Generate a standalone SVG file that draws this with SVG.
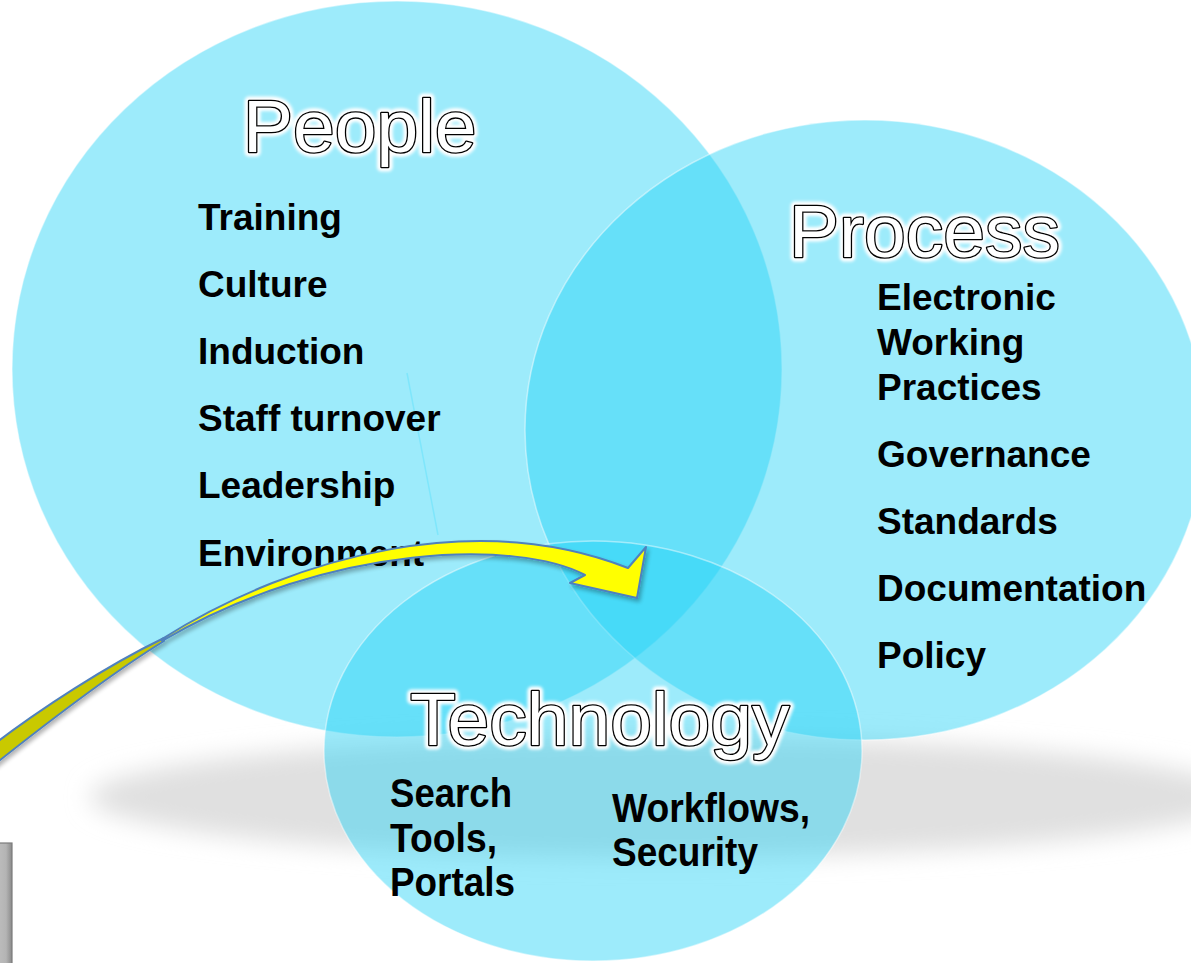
<svg xmlns="http://www.w3.org/2000/svg" width="1191" height="963" viewBox="0 0 1191 963">
<defs>
<style>
.circle{fill:#20d1f6;fill-opacity:0.44;stroke:#ffffff;stroke-opacity:0.45;stroke-width:1.5}
.title{font-family:"Liberation Sans",Arial,sans-serif;font-size:75px;fill:#ffffff;stroke:#000000;stroke-width:2.6;paint-order:stroke;stroke-linejoin:round}
.halo{font-family:"Liberation Sans",Arial,sans-serif;font-size:75px;fill:#ffffff;stroke:#ffffff;stroke-width:9;stroke-linejoin:round}
.item{font-family:"Liberation Sans",Arial,sans-serif;font-weight:bold;font-size:37px;fill:#000000}
.tech{font-family:"Liberation Sans",Arial,sans-serif;font-weight:bold;font-size:40px;fill:#000000}
.ribbon{stroke:#4f81bd;stroke-width:2;stroke-linejoin:round}
</style>
<filter id="blurShadow" x="-20%" y="-50%" width="140%" height="200%">
<feGaussianBlur stdDeviation="12"/>
</filter>
<filter id="haloBlur" x="-10%" y="-30%" width="120%" height="160%">
<feGaussianBlur stdDeviation="1.5"/>
</filter>
<filter id="arrowShadow" x="-10%" y="-20%" width="120%" height="140%">
<feGaussianBlur in="SourceAlpha" stdDeviation="2"/>
<feOffset dx="2" dy="3" result="o"/>
<feComponentTransfer><feFuncA type="linear" slope="0.3"/></feComponentTransfer>
<feMerge><feMergeNode/><feMergeNode in="SourceGraphic"/></feMerge>
</filter>
<linearGradient id="greyBox" x1="0" y1="0" x2="1" y2="0">
<stop offset="0" stop-color="#c4c4c4"/>
<stop offset="0.7" stop-color="#b4b4b4"/>
<stop offset="1" stop-color="#8a8a8a"/>
</linearGradient>
</defs>

<rect x="0" y="0" width="1191" height="963" fill="#ffffff"/>

<g id="shadow">
<ellipse cx="665" cy="797" rx="575" ry="60" fill="#e0e0e0" filter="url(#blurShadow)"/>
</g>

<g id="box">
<rect x="-8" y="843" width="20" height="130" fill="url(#greyBox)" stroke="#7c7c7c" stroke-width="1.2"/>
</g>

<g id="node-people">
<ellipse class="circle" cx="397" cy="369" rx="385" ry="368"/>
<line x1="407" y1="373" x2="438" y2="535" stroke="#7fe6fb" stroke-width="1.5"/>
<text class="halo" x="243" y="152" filter="url(#haloBlur)">People</text>
<text class="title" x="243" y="152">People</text>
<text class="item" x="198" y="230">Training</text>
<text class="item" x="198" y="297">Culture</text>
<text class="item" x="198" y="364">Induction</text>
<text class="item" x="198" y="431">Staff turnover</text>
<text class="item" x="198" y="498">Leadership</text>
<text class="item" x="198" y="566">Environment</text>
</g>

<g id="node-process">
<ellipse class="circle" cx="865" cy="430" rx="340" ry="310"/>
<text class="halo" x="789" y="257" filter="url(#haloBlur)">Process</text>
<text class="title" x="789" y="257">Process</text>
<text class="item" x="877" y="310">Electronic</text>
<text class="item" x="877" y="355">Working</text>
<text class="item" x="877" y="400">Practices</text>
<text class="item" x="877" y="467">Governance</text>
<text class="item" x="877" y="534">Standards</text>
<text class="item" x="877" y="601">Documentation</text>
<text class="item" x="877" y="668">Policy</text>
</g>

<g id="node-technology">
<ellipse class="circle" cx="593" cy="751" rx="269" ry="210"/>
<text class="halo" x="410" y="745" filter="url(#haloBlur)">Technology</text>
<text class="title" x="410" y="745">Technology</text>
<text class="tech" x="390" y="807" textLength="122" lengthAdjust="spacingAndGlyphs">Search</text>
<text class="tech" x="390" y="852" textLength="107" lengthAdjust="spacingAndGlyphs">Tools,</text>
<text class="tech" x="390" y="896" textLength="125" lengthAdjust="spacingAndGlyphs">Portals</text>
<text class="tech" x="612" y="822" textLength="198" lengthAdjust="spacingAndGlyphs">Workflows,</text>
<text class="tech" x="612" y="866" textLength="146" lengthAdjust="spacingAndGlyphs">Security</text>
</g>

<g id="connectors" filter="url(#arrowShadow)">
<path class="ribbon" fill="#c9c900" d="M164,638 C110,664 40,708 -20,755 L -20,776 C40,728 110,674 164,641 Z"/>
<path class="ribbon" fill="#ffff00" d="M162,639 C300,552 480,510 628,568 L646,547 L637,598 L570,583 L585,575 C520,540 330,542 162,641 Z"/>
</g>
</svg>
